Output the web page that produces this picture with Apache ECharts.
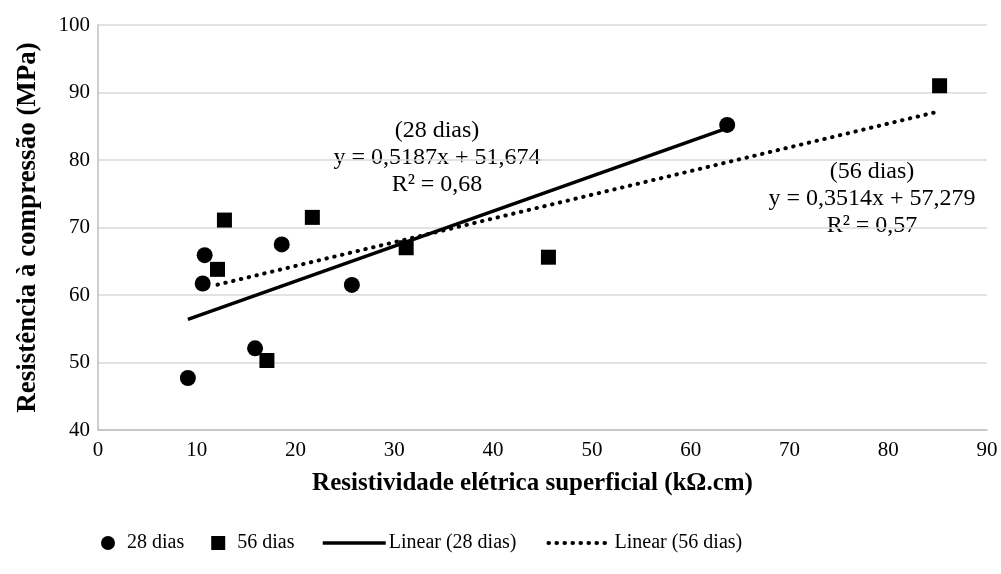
<!DOCTYPE html>
<html>
<head>
<meta charset="utf-8">
<script src="https://cdn.jsdelivr.net/npm/echarts@6/dist/echarts.min.js"></script>
<style>
html,body{margin:0;padding:0;background:#fff;}
#chart{width:1001px;height:574px;}
</style>
</head>
<body>
<div id="chart"></div>
<script>
// Data
const x28 = [9.1, 10.6, 10.8, 15.9, 18.6, 25.7, 63.7];
const y28 = [47.7, 61.7, 65.9, 52.1, 67.5, 61.5, 85.2];
const x56 = [12.1, 12.8, 17.1, 21.7, 31.2, 45.6, 85.2];
const y56 = [63.8, 71.1, 50.3, 71.5, 67.0, 65.6, 91.0];
// Trendline coefficients shown on the chart [slope, intercept]
const trend28 = [0.5187, 51.674];
const trend56 = [0.3514, 57.279];
const seriesNames = ['28 dias', '56 dias', 'Linear (28 dias)', 'Linear (56 dias)'];
const eq28Text = ['(28 dias)', 'y = 0,5187x + 51,674', 'R² = 0,68'];
const eq56Text = ['(56 dias)', 'y = 0,3514x + 57,279', 'R² = 0,57'];
const xTitle = 'Resistividade elétrica superficial (kΩ.cm)';
const yTitle = 'Resistência à compressão (MPa)';

const FONT = '"Liberation Serif", "Times New Roman", serif';

function pairs(xs, ys) { return xs.map((x, i) => [x, ys[i]]); }
function trendLine(xs, c) {
  const a = Math.min(...xs), b = Math.max(...xs);
  return [[a, c[0] * a + c[1]], [b, c[0] * b + c[1]]];
}

const solidStyle = {color: '#000', width: 3.5, type: 'solid'};
const dottedStyle = {color: '#000', width: 4, type: [0.5, 7.5], cap: 'round'};

const chart = echarts.init(document.getElementById('chart'), null, {renderer: 'canvas'});
chart.setOption({
  animation: false,
  backgroundColor: '#ffffff',
  textStyle: {fontFamily: FONT, color: '#000'},
  grid: {left: 98, right: 14, top: 25, bottom: 144},
  xAxis: {
    type: 'value', min: 0, max: 90, interval: 10,
    name: xTitle, nameLocation: 'middle', nameGap: 41,
    nameTextStyle: {fontFamily: FONT, fontSize: 25, fontWeight: 'bold', color: '#000', padding: [0, 20, 0, 0]},
    axisLine: {show: true, lineStyle: {color: '#bfbfbf', width: 1.5}},
    axisTick: {show: false},
    axisLabel: {fontFamily: FONT, fontSize: 21, color: '#000', margin: 10},
    splitLine: {show: false}
  },
  yAxis: {
    type: 'value', min: 40, max: 100, interval: 10,
    name: yTitle, nameLocation: 'middle', nameGap: 56, nameRotate: 90,
    nameTextStyle: {fontFamily: FONT, fontSize: 27, fontWeight: 'bold', color: '#000'},
    axisLine: {show: true, lineStyle: {color: '#bfbfbf', width: 1.5}},
    axisTick: {show: false},
    axisLabel: {fontFamily: FONT, fontSize: 21, color: '#000', margin: 8},
    splitLine: {show: true, lineStyle: {color: '#d9d9d9', width: 1.5}}
  },
  legend: [
    {
      data: [{name: seriesNames[0], icon: 'circle'}, {name: seriesNames[1], icon: 'rect'}],
      left: 96, top: 528, itemWidth: 14, itemHeight: 14, itemGap: 27,
      textStyle: {fontFamily: FONT, fontSize: 20, color: '#000', padding: [0, 0, 0, 7]}
    },
    {
      data: [
        {name: seriesNames[2], lineStyle: solidStyle},
        {name: seriesNames[3], lineStyle: dottedStyle}
      ],
      left: 316, top: 528, itemWidth: 63, itemHeight: 14, itemGap: 30,
      itemStyle: {opacity: 0},
      textStyle: {fontFamily: FONT, fontSize: 20, color: '#000', padding: [0, 0, 0, -2]}
    }
  ],
  series: [
    {
      name: seriesNames[0], type: 'scatter', symbol: 'circle', symbolSize: 16,
      itemStyle: {color: '#000', opacity: 1}, data: pairs(x28, y28), z: 3
    },
    {
      name: seriesNames[1], type: 'scatter', symbol: 'rect', symbolSize: 15,
      itemStyle: {color: '#000', opacity: 1}, data: pairs(x56, y56), z: 3
    },
    {
      name: seriesNames[2], type: 'line', symbol: 'circle', showSymbol: false,
      lineStyle: solidStyle,
      itemStyle: {color: '#000'},
      data: trendLine(x28, trend28), z: 4
    },
    {
      name: seriesNames[3], type: 'line', symbol: 'circle', showSymbol: false,
      lineStyle: dottedStyle,
      itemStyle: {color: '#000'},
      data: trendLine(x56, trend56), z: 4
    }
  ],
  graphic: [
    {
      type: 'text', x: 437, y: 158,
      style: {text: eq28Text.join('\n'), fontFamily: FONT, fontSize: 24, lineHeight: 27,
        fill: '#000', align: 'center', verticalAlign: 'middle'}
    },
    {
      type: 'text', x: 872, y: 199,
      style: {text: eq56Text.join('\n'), fontFamily: FONT, fontSize: 24, lineHeight: 27,
        fill: '#000', align: 'center', verticalAlign: 'middle'}
    }
  ]
});
</script>
</body>
</html>
